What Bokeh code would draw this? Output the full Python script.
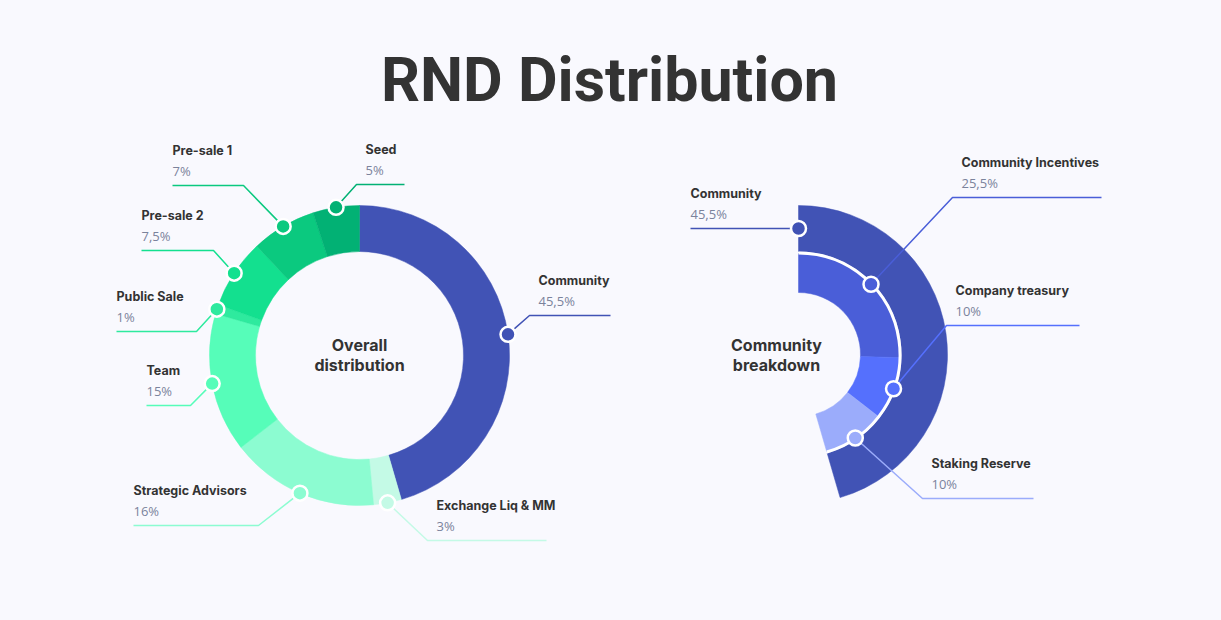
import math
from bokeh.plotting import figure
from bokeh.models import Range1d
from bokeh.core.properties import value
from bokeh.embed import file_html
from bokeh.resources import INLINE

# ---------------- data ----------------
title = "RND Distribution"

categories = ["Community", "Exchange Liq & MM", "Strategic Advisors", "Team",
              "Public Sale", "Pre-sale 2", "Pre-sale 1", "Seed"]
shares = [45.5, 3, 16, 15, 1, 7.5, 7, 5]
share_labels = ["45,5%", "3%", "16%", "15%", "1%", "7,5%", "7%", "5%"]
center_label = ["Overall", "distribution"]

parent_category = "Community"
parent_share = 45.5
parent_label = "45,5%"
breakdown_categories = ["Community Incentives", "Company treasury", "Staking Reserve"]
breakdown_shares = [25.5, 10, 10]
breakdown_labels = ["25,5%", "10%", "10%"]
breakdown_center = ["Community", "breakdown"]

# ---------------- styles / layout ----------------
BG = "#F9F9FE"
DARK = "#333333"
GREY = "#7B839C"
colors = ["#4153B5", "#C4FAE6", "#8CFCD1", "#56FDB9", "#2EEA9E", "#13E08F", "#0BC97F", "#02B174"]
parent_color = "#4153B5"
breakdown_colors = ["#4A5ED8", "#5570FD", "#9BACFB"]

FIG_W, FIG_H = 1221, 620
# layout (screen pixel coordinates of the page)
L_CX, L_CY, L_RIN, L_ROUT = 359, 355, 104, 150
R_CX, R_CY = 798, 354
R_OUT_IN, R_OUT_OUT = 103, 149
R_IN_IN, R_IN_OUT = 62, 101

# label elbows (x, y), horizontal end x, text side
left_elbows = [(529, 315), (427, 540), (258, 525), (190, 405), (196, 331), (213, 250), (243, 185), (356, 184)]
left_ends = [610, 546, 133, 146, 116, 141, 172, 404]
left_sides = ["r", "r", "l", "l", "l", "l", "l", "r"]
right_elbows = [(952, 197), (946, 325), (922, 498)]
right_ends = [1101, 1079, 1033]
parent_end = 690

# empirical baseline compensation (px) for the svg text renderer
OFF13, OFF16, OFF60 = 6, 7, 21


def sx(x):
    return x


def sy(y):
    return FIG_H - y


p = figure(width=FIG_W, height=FIG_H, x_range=Range1d(0, FIG_W), y_range=Range1d(0, FIG_H),
           x_axis_type=None, y_axis_type=None, toolbar_location=None, output_backend="svg",
           min_border=0, background_fill_color=BG, border_fill_color=BG, outline_line_color=None)
p.grid.visible = False


def wedge_angles(vals):
    out = []
    cum = 0.0
    for v in vals:
        t0 = cum / 100 * 2 * math.pi
        t1 = (cum + v) / 100 * 2 * math.pi
        out.append((math.pi / 2 - t1, math.pi / 2 - t0, (t0 + t1) / 2))
        cum += v
    return out


def polar(cx, cy, r, theta):
    return sx(cx + r * math.sin(theta)), sy(cy - r * math.cos(theta))


# ---------- left donut ----------
la = wedge_angles(shares)
p.annular_wedge(x=[sx(L_CX)] * len(shares), y=[sy(L_CY)] * len(shares),
                inner_radius=L_RIN, outer_radius=L_ROUT,
                start_angle=[a[0] for a in la], end_angle=[a[1] for a in la],
                fill_color=colors, line_color=colors, line_width=0.5)

# ---------- right half donut ----------
pa = wedge_angles([parent_share])
p.annular_wedge(x=[sx(R_CX)], y=[sy(R_CY)], inner_radius=R_OUT_IN, outer_radius=R_OUT_OUT,
                start_angle=[pa[0][0]], end_angle=[pa[0][1]],
                fill_color=parent_color, line_color=parent_color, line_width=0.5)
ba = wedge_angles(breakdown_shares)
p.annular_wedge(x=[sx(R_CX)] * 3, y=[sy(R_CY)] * 3, inner_radius=R_IN_IN, outer_radius=R_IN_OUT,
                start_angle=[a[0] for a in ba], end_angle=[a[1] for a in ba],
                fill_color=breakdown_colors, line_color=breakdown_colors, line_width=0.5)
p.arc(x=[sx(R_CX)], y=[sy(R_CY)], radius=R_IN_OUT + 0.5,
      start_angle=[ba[-1][0]], end_angle=[ba[0][1]], line_color="white", line_width=3,
      direction="anticlock")

# ---------- leader lines, markers, labels ----------
xs, ys, lc = [], [], []
mx, my, mc = [], [], []
name_x, name_y, name_t = [], [], []
val_x, val_y, val_t = [], [], []


def add_label(marker, elbow, end, side, color, name, val):
    ex, ey = sx(elbow[0]), sy(elbow[1])
    xs.append([marker[0], ex, sx(end)])
    ys.append([marker[1], ey, ey])
    lc.append(color)
    mx.append(marker[0]); my.append(marker[1]); mc.append(color)
    tx = ex + 9 if side == "r" else sx(end)
    name_x.append(tx); name_y.append(ey + 29 + OFF13); name_t.append(name)
    val_x.append(tx); val_y.append(ey + 9 + OFF13); val_t.append(val)


for i, c in enumerate(categories):
    m = polar(L_CX, L_CY, L_ROUT, la[i][2])
    add_label(m, left_elbows[i], left_ends[i], left_sides[i], colors[i], c, share_labels[i])

pm = polar(R_CX, R_CY, (R_OUT_IN + R_OUT_OUT) / 2, 0.0)
xs.append([pm[0], sx(parent_end)]); ys.append([pm[1], pm[1]]); lc.append(parent_color)
mx.append(pm[0]); my.append(pm[1]); mc.append(parent_color)
name_x.append(sx(parent_end)); name_y.append(pm[1] + 29 + OFF13); name_t.append(parent_category)
val_x.append(sx(parent_end)); val_y.append(pm[1] + 9 + OFF13); val_t.append(parent_label)

for i, c in enumerate(breakdown_categories):
    m = polar(R_CX, R_CY, R_IN_OUT, ba[i][2])
    add_label(m, right_elbows[i], right_ends[i], "r", breakdown_colors[i], c, breakdown_labels[i])

p.multi_line(xs=xs, ys=ys, line_color=lc, line_width=1.5)
p.scatter(x=mx, y=my, size=15, fill_color=mc, line_color="white", line_width=2.5)

p.text(x=name_x, y=name_y, text=name_t, text_font=value("Inter"), text_font_style="bold",
       text_font_size="12.5px", text_color=DARK, text_baseline="alphabetic", text_align="left")
p.text(x=val_x, y=val_y, text=val_t, text_font=value("Open Sans"),
       text_font_size="13px", text_color=GREY, text_baseline="alphabetic", text_align="left")

p.text(x=[sx(L_CX)] * 2, y=[sy(351) + OFF16, sy(371) + OFF16], text=center_label,
       text_font=value("Inter"), text_font_style="bold", text_font_size="16px", text_color=DARK,
       text_align="center", text_baseline="alphabetic")
p.text(x=[sx(776)] * 2, y=[sy(351) + OFF16, sy(371) + OFF16], text=breakdown_center,
       text_font=value("Inter"), text_font_style="bold", text_font_size="16px", text_color=DARK,
       text_align="center", text_baseline="alphabetic")

p.text(x=[sx(609)], y=[sy(100) + OFF60], text=[title], text_font=value("Roboto"),
       text_font_style="bold", text_font_size="61px", text_color=DARK, text_align="center",
       text_baseline="alphabetic")

tmpl = """
{% block preamble %}
<style>html, body { background: #F9F9FE !important; margin: 0 !important; padding: 0 !important; overflow: hidden !important; }</style>
{% endblock %}
"""
open("out.html", "w").write(file_html(p, INLINE, title="RND Distribution", template=tmpl))
